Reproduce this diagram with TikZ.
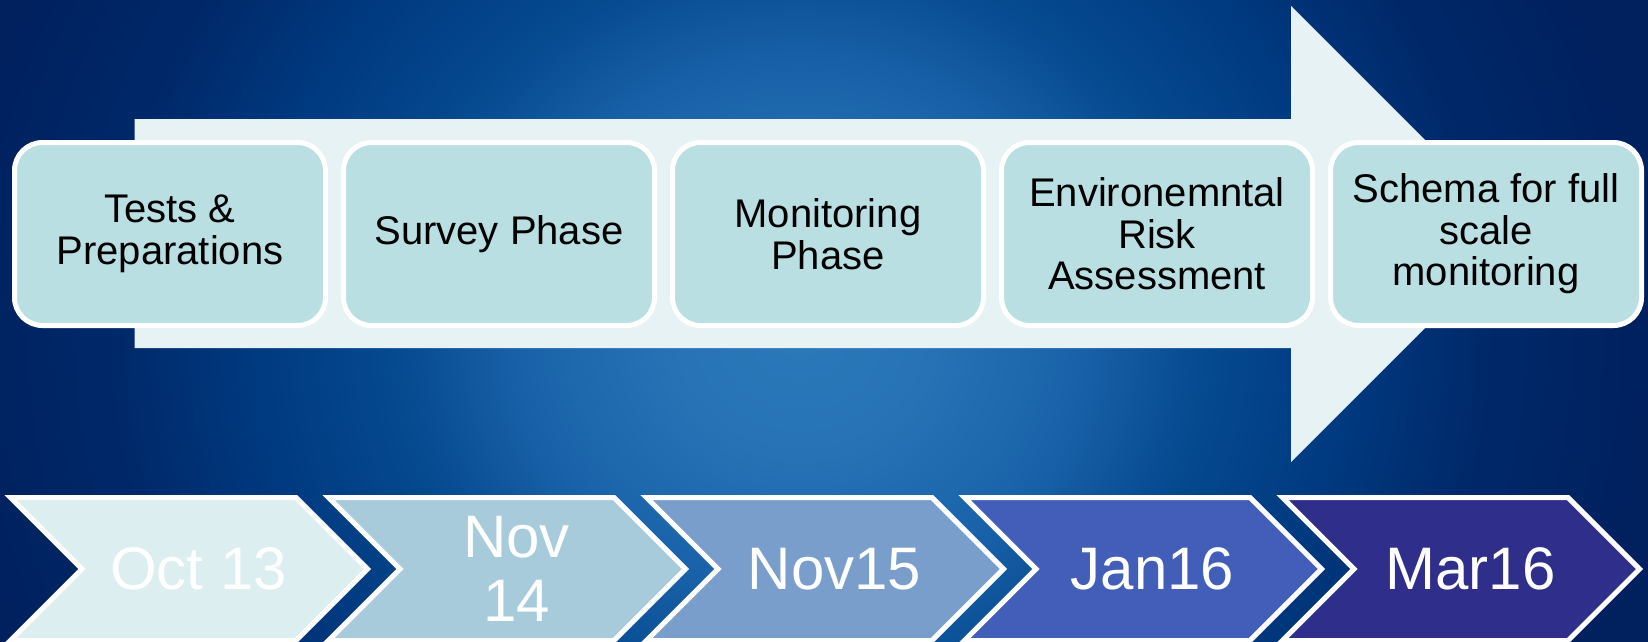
\documentclass[tikz,border=0pt]{standalone}
\usepackage{fontspec}
\setmainfont{Liberation Sans}
\usepackage{xcolor}

\definecolor{glowa}{HTML}{2B79B9}
\definecolor{glowb}{HTML}{2672B5}
\definecolor{glowc}{HTML}{1A63AA}
\definecolor{glowd}{HTML}{05498F}
\definecolor{glowe}{HTML}{003A80}
\definecolor{glowf}{HTML}{00296A}
\definecolor{glowg}{HTML}{00205E}
\definecolor{arrowfill}{HTML}{E6F2F4}
\definecolor{boxfill}{HTML}{B9DFE2}
\definecolor{chevA}{HTML}{DCEEF0}
\definecolor{chevB}{HTML}{A8CBDB}
\definecolor{chevC}{HTML}{7A9ECB}
\definecolor{chevD}{HTML}{425EB8}
\definecolor{chevE}{HTML}{2F2E8A}

% path box maps onto -25bp..25bp
\pgfdeclareradialshading{bgglow}{\pgfpoint{0bp}{0bp}}{%
  color(0bp)=(glowa); color(4bp)=(glowb); color(8bp)=(glowc);
  color(12bp)=(glowd); color(16bp)=(glowe); color(20bp)=(glowf);
  color(25bp)=(glowg); color(50bp)=(glowg)}

\begin{document}
\begin{tikzpicture}
  [x=1pt,y=-1pt,
   phase/.style={rectangle,rounded corners=28pt,draw=white,line width=5pt,
     fill=boxfill,minimum width=311pt,minimum height=183pt,inner sep=0pt,
     align=center,text=black,font=\fontsize{40}{41.5}\selectfont},
   datelab/.style={inner sep=0pt,align=center,text=white,
     font=\fontsize{60}{64}\selectfont}]
  \useasboundingbox (0,0) rectangle (1648,641);

  % background glow
  \begin{scope}
    \clip (0,0) rectangle (1648,641);
    \shade[shading=bgglow] (-50,-470) rectangle (1650,1130);
  \end{scope}

  % big arrow behind the phases
  \fill[arrowfill] (134.5,119) -- (1291,119) -- (1291,6) -- (1519,234)
    -- (1291,462) -- (1291,348) -- (134.5,348) -- cycle;

  \node[phase] (tests)  at (170,234)  {Tests \&\\Preparations};
  \node[phase] (survey) at (499,234)  {Survey Phase};
  \node[phase] (monit)  at (828,234)  {Monitoring\\Phase};
  \node[phase] (risk)   at (1157,234) {Environemntal\\Risk\\Assessment};
  \node[phase] (schema) at (1486,234) {Schema for full\\scale\\monitoring};

  % time line
  \foreach \i/\col/\lab in {0/chevA/Oct 13,1/chevB/{Nov\\14},2/chevC/Nov15,3/chevD/Jan16,4/chevE/Mar16}
  {
    \filldraw[fill=\col,draw=white,line width=5pt,line join=miter]
      ({10.5+318*\i},497.5) -- ++(285.5,0) -- ++(71.5,71.5) -- ++(-71.5,71.5)
      -- ++(-285.5,0) -- ++(71.5,-71.5) -- cycle;
    \node[datelab] (date\i) at ({198.5+318*\i},569) {\lab};
  }

\end{tikzpicture}
\end{document}
